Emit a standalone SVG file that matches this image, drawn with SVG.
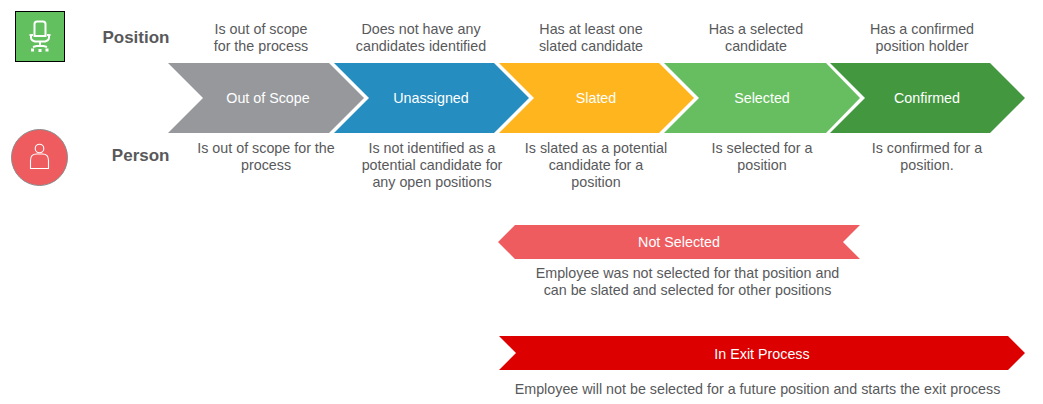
<svg xmlns="http://www.w3.org/2000/svg" width="1043" height="404" viewBox="0 0 1043 404">
<style>
text{font-family:"Liberation Sans",Arial,sans-serif}
.d{font-size:14.3px;fill:#58595b;text-anchor:middle}
.l{font-size:14.3px;fill:#fff;text-anchor:middle}
.h{font-size:17px;font-weight:bold;fill:#58595b;text-anchor:end}
.i{fill:none;stroke:#fff;stroke-width:1.1}
.c{fill:none;stroke:#fff;stroke-width:2}
</style>
<rect width="1043" height="404" fill="#fff"/>
<g id="position-icon">
<rect x="15.500" y="11.500" width="49" height="50" fill="#62c05f" stroke="#000" stroke-width="1"/>
<path class="c" d="M34.500 36V24q0-2.500 2.500-2.500h6q2.500 0 2.500 2.500v12zM31 34.500v3q0 3 4 4h10q4-1 4-4v-3M29.500 35h3.500M47 35h3.500M40 42v5M33 47q7-2.500 14 0"/>
<path fill="#fff" d="M31 48.500h3v3h-3zM38.500 49h3v3h-3zM45.500 48.500h3v3h-3z"/>
</g>
<g id="person-icon">
<circle cx="39.500" cy="157.500" r="28" fill="#ee5c60" stroke="#8a8a8a" stroke-width="1"/>
<circle class="i" cx="39.500" cy="148.500" r="4.300"/>
<path class="i" d="M30.500 168.500v-8q0-6.500 6-6.500h6q6 0 6 6.500v8z"/>
</g>
<text class="h" x="169.500" y="43">Position</text>
<text class="h" x="169.500" y="161">Person</text>
<g id="connectors"></g>
<g id="out-of-scope">
<polygon points="168,63 329,63 364,98 329,133 168,133 203,98" fill="#96989c"/>
<text class="l" x="268" y="103">Out of Scope</text>
<text class="d" x="261" y="34">Is out of scope</text><text class="d" x="261" y="51">for the process</text>
<text class="d" x="266" y="153">Is out of scope for the</text><text class="d" x="266" y="170">process</text>
</g>
<g id="unassigned">
<polygon points="334,63 494,63 529,98 494,133 334,133 369,98" fill="#268dc0"/>
<text class="l" x="431" y="103">Unassigned</text>
<text class="d" x="421" y="34">Does not have any</text><text class="d" x="421" y="51">candidates identified</text>
<text class="d" x="432" y="153">Is not identified as a</text><text class="d" x="432" y="170">potential candidate for</text><text class="d" x="432" y="187">any open positions</text>
</g>
<g id="slated">
<polygon points="499,63 659,63 694,98 659,133 499,133 534,98" fill="#feb51e"/>
<text class="l" x="596" y="103">Slated</text>
<text class="d" x="591" y="34">Has at least one</text><text class="d" x="591" y="51">slated candidate</text>
<text class="d" x="596" y="153">Is slated as a potential</text><text class="d" x="596" y="170">candidate for a</text><text class="d" x="596" y="187">position</text>
</g>
<g id="selected">
<polygon points="664,63 826,63 860,98 826,133 664,133 699,98" fill="#67be60"/>
<text class="l" x="762" y="103">Selected</text>
<text class="d" x="756" y="34">Has a selected</text><text class="d" x="756" y="51">candidate</text>
<text class="d" x="762" y="153">Is selected for a</text><text class="d" x="762" y="170">position</text>
</g>
<g id="confirmed">
<polygon points="830,63 990,63 1025,98 990,133 830,133 865,98" fill="#43973f"/>
<text class="l" x="927" y="103">Confirmed</text>
<text class="d" x="922" y="34">Has a confirmed</text><text class="d" x="922" y="51">position holder</text>
<text class="d" x="927" y="153">Is confirmed for a</text><text class="d" x="927" y="170">position.</text>
</g>
<g id="not-selected">
<polygon points="498,242 515,225 860,225 843,242 860,259 515,259" fill="#ee5c60"/>
<text class="l" x="679" y="247">Not Selected</text>
<text class="d" x="687.500" y="278">Employee was not selected for that position and</text><text class="d" x="687.500" y="295">can be slated and selected for other positions</text>
</g>
<g id="in-exit-process">
<polygon points="499,336 1008,336 1025,353 1008,370 499,370 516,353" fill="#dc0000"/>
<text class="l" x="762" y="359">In Exit Process</text>
<text class="d" x="757.500" y="394">Employee will not be selected for a future position and starts the exit process</text>
</g>
</svg>
